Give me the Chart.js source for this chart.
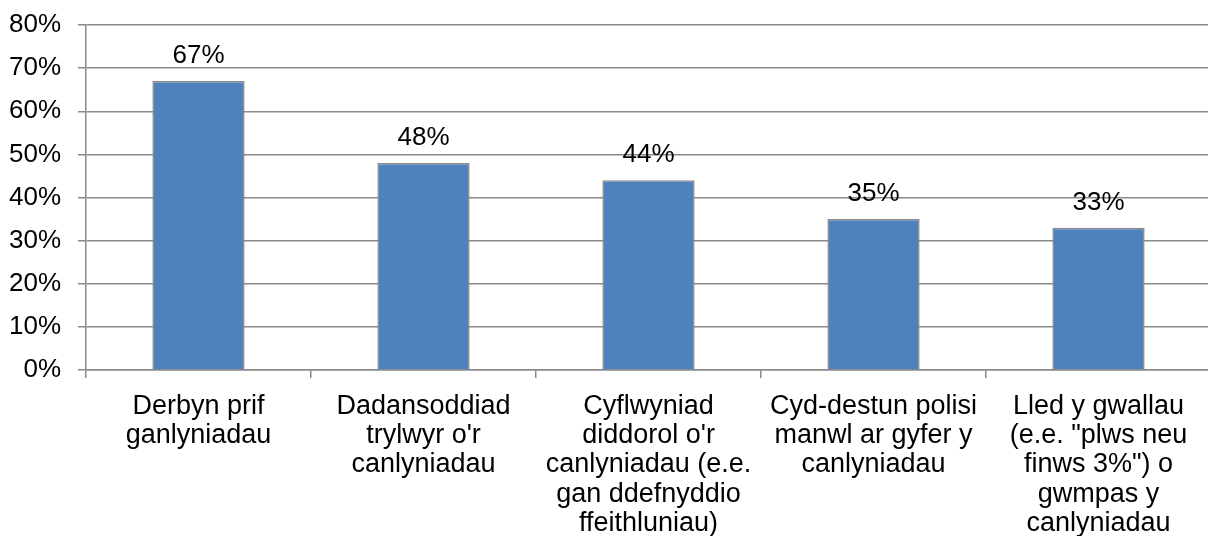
<!DOCTYPE html>
<html>
<head>
<meta charset="utf-8">
<script src="https://cdn.jsdelivr.net/npm/chart.js@4/dist/chart.umd.min.js"></script>
<style>
  html, body { margin: 0; padding: 0; background: #fff; overflow: hidden; }
  #wrap { width: 1212px; height: 536px; }
</style>
</head>
<body>
<div id="wrap"><canvas id="myChart"></canvas></div>
<script>
// chart data
var categories = [
  ["Derbyn prif", "ganlyniadau"],
  ["Dadansoddiad", "trylwyr o'r", "canlyniadau"],
  ["Cyflwyniad", "diddorol o'r", "canlyniadau (e.e.", "gan ddefnyddio", "ffeithluniau)"],
  ["Cyd-destun polisi", "manwl ar gyfer y", "canlyniadau"],
  ["Lled y gwallau", "(e.e. \"plws neu", "finws 3%\") o", "gwmpas y", "canlyniadau"]
];
var values = [67, 48, 44, 35, 33];
var yMin = 0;
var yMax = 80;
var yStep = 10;

var FONT = "'Liberation Sans', Arial, sans-serif";
var gridColor = "#8a8a8a";

// draws the percentage above each bar
const barLabels = {
  id: "barLabels",
  afterDatasetsDraw(chart) {
    const ctx = chart.ctx;
    const meta = chart.getDatasetMeta(0);
    ctx.save();
    ctx.font = "26px " + FONT;
    ctx.fillStyle = "#000";
    ctx.textAlign = "center";
    ctx.textBaseline = "alphabetic";
    meta.data.forEach((bar, i) => {
      ctx.fillText(values[i] + "%", bar.x, bar.y - 18);
    });
    ctx.restore();
  }
};

const ctx = document.getElementById('myChart').getContext('2d');

const myChart = new Chart(ctx, {
  type: 'bar',
  data: {
    labels: categories,
    datasets: [{
      data: values,
      backgroundColor: "#4f81bd",
      borderColor: "#8a8a8a",
      borderWidth: 1.5,
      barPercentage: 0.41,
      categoryPercentage: 1
    }]
  },
  options: {
    responsive: true,
    maintainAspectRatio: false,
    animation: false,
    layout: {
      padding: { top: 25, left: 0, right: 1, bottom: 0 }
    },
    plugins: {
      legend: { display: false },
      tooltip: { enabled: false }
    },
    scales: {
      x: {
        offset: true,
        grid: {
          offset: true,
          drawOnChartArea: false,
          drawTicks: true,
          tickLength: 8,
          color: gridColor,
          lineWidth: 1.5
        },
        border: { display: true, color: gridColor, width: 1.5 },
        ticks: {
          color: "#000",
          padding: 14,
          maxRotation: 0,
          autoSkip: false,
          font: { family: FONT, size: 27, lineHeight: 1.08 }
        },
        afterFit: function (scale) {
          scale.height = 166;
          scale.paddingLeft = 0;
          scale.paddingRight = 0;
        }
      },
      y: {
        min: yMin,
        max: yMax,
        grid: {
          color: gridColor,
          lineWidth: 1.5,
          drawTicks: true,
          tickLength: 8
        },
        border: { display: true, color: gridColor, width: 1.5 },
        ticks: {
          stepSize: yStep,
          color: "#000",
          padding: 17,
          font: { family: FONT, size: 26 },
          callback: function (value) {
            return value + "%";
          }
        },
        afterFit: function (scale) {
          scale.width = 86;
          scale.paddingTop = 0;
          scale.paddingBottom = 0;
        }
      }
    }
  },
  plugins: [barLabels]
});
</script>
</body>
</html>
